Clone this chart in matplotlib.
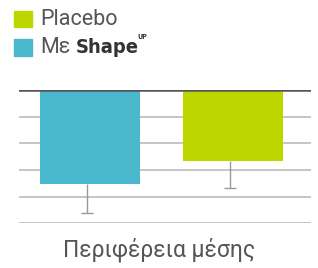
import matplotlib
matplotlib.use("Agg")
import matplotlib.pyplot as plt
from matplotlib.patches import Rectangle

# data (change in waist circumference, cm)
groups = ["Με ShapeUP", "Placebo"]
values = [-3.54, -2.66]
errors = [1.09, 1.02]
colors = ["#4ab8cc", "#bed600"]
xlabel = "Περιφέρεια μέσης"

fig = plt.figure(figsize=(3.18, 2.68), dpi=100)
fig.patch.set_facecolor("white")
ax = fig.add_axes([0.0588, 0.1668, 0.918, 0.4975])

x = [0, 1]
ax.bar(x, values, width=0.70, color=colors, zorder=2)
# error bars only point downwards from the bar end
ex = [xi - 0.02 for xi in x]
lows = [v - e for v, e in zip(values, errors)]
ax.vlines(ex, values, lows, color="#999999", lw=1, zorder=1)
ax.plot(ex, lows, ls="none", marker="_", ms=9, mew=1, color="#999999", zorder=1)

ax.set_ylim(-5, 0)
ax.set_xlim(-0.50, 1.54)
for yv in [-1, -2, -3, -4, -5]:
    ax.axhline(yv, color="#bbbbbb", lw=1.2, zorder=0)
ax.axhline(0, color="#555555", lw=1.8, zorder=3)

for s in ax.spines.values():
    s.set_visible(False)
ax.set_xticks([])
ax.set_yticks([])
ax.set_facecolor("none")

fig.text(0.5, 0.068, xlabel, ha="center", va="center", fontsize=16.5,
         family="Roboto", color="#555555")

# manual legend
fig.add_artist(Rectangle((0.044, 0.898), 0.0556, 0.062, transform=fig.transFigure,
                         color=colors[1]))
fig.add_artist(Rectangle((0.044, 0.792), 0.0556, 0.062, transform=fig.transFigure,
                         color=colors[0]))
fig.text(0.126, 0.929, groups[1], ha="left", va="center", fontsize=15.5,
         family="Roboto", color="#555555")
fig.text(0.126, 0.823, "Με", ha="left", va="center", fontsize=15.5,
         family="Roboto", color="#555555")
fig.text(0.238, 0.822, "Shape", ha="left", va="center", fontsize=14.5,
         family="DejaVu Sans", fontstretch="condensed", fontweight="bold",
         color="#333333")
fig.text(0.432, 0.862, "UP", ha="left", va="center", fontsize=5,
         family="DejaVu Sans", fontstretch="condensed", fontweight="bold",
         color="#333333")

fig.savefig("out.png", dpi=100)
